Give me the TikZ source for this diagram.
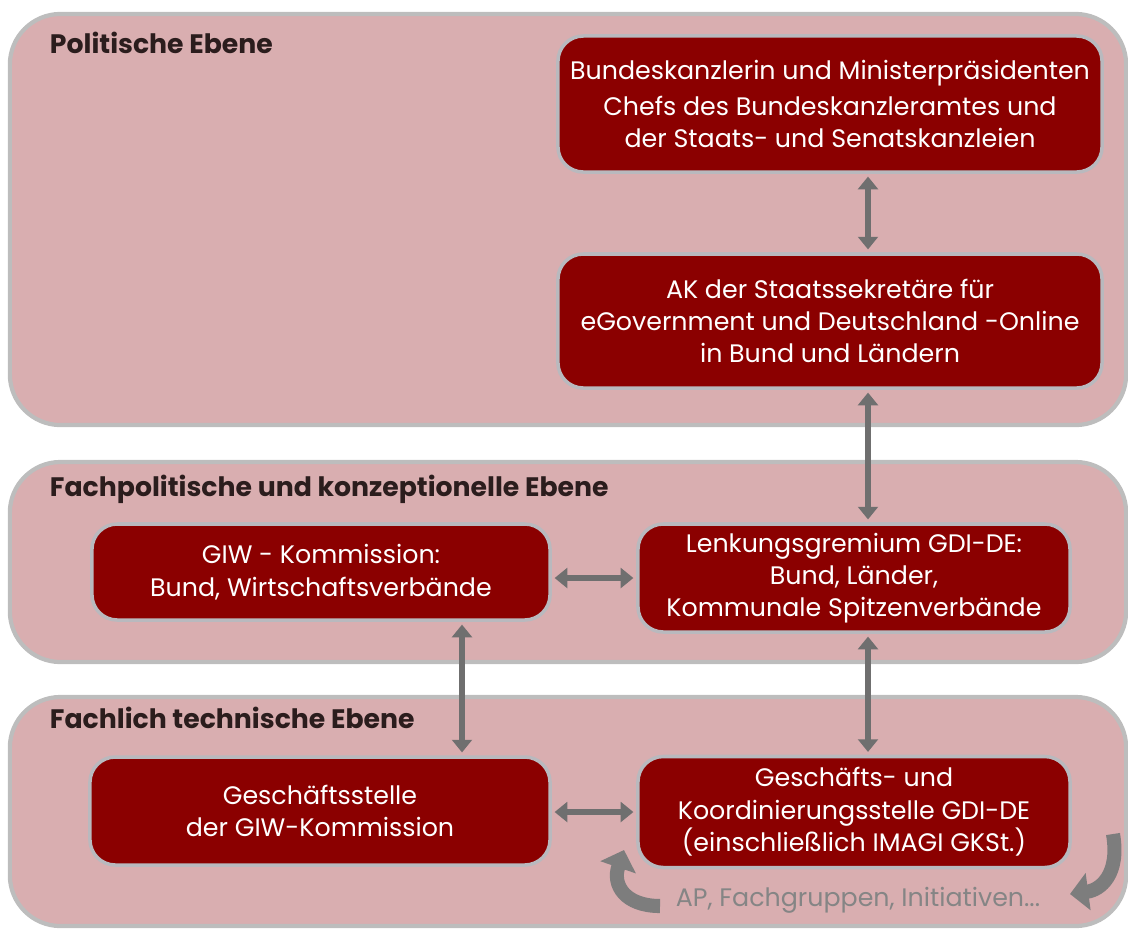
\documentclass[tikz,border=0pt]{standalone}
\usepackage{fontspec}
\setmainfont{Poppins}
\usetikzlibrary{arrows.meta}
\definecolor{ebenefill}{HTML}{D9AEB0}
\definecolor{ebenerand}{HTML}{BDBDBD}
\definecolor{dunkelrot}{HTML}{8B0000}
\definecolor{gremiumrand}{HTML}{B9B9BE}
\definecolor{titelfarbe}{HTML}{2B1D1D}
\definecolor{pfeilgrau}{HTML}{6F6F6F}
\tikzset{
  ebene/.style={draw=ebenerand, line width=3pt, fill=ebenefill, rounded corners=36pt, inner sep=0pt},
  gremium/.style={draw=gremiumrand, line width=2.5pt, fill=dunkelrot, rounded corners=18pt,
    text=white, align=center, inner sep=0pt, font=\fontsize{18}{23}\selectfont},
  titel/.style={anchor=base west, text=titelfarbe, font=\bfseries\fontsize{19}{22}\selectfont},
  doppel/.style={draw=pfeilgrau, line width=4pt,
    {Triangle[width=14pt,length=9pt]}-{Triangle[width=14pt,length=9pt]}, shorten <=2pt, shorten >=2pt},
  kreis/.style={draw=pfeilgrau!90, line width=10pt, -{Triangle[width=26pt,length=13pt]}}
}
\begin{document}
\begin{tikzpicture}
        \def\x{.025}
        \def\y{-.025}
        \useasboundingbox (0,0) rectangle (1128*\x, 929*\y);
        % Ebenen
        \node[ebene, minimum width=27.9cm, minimum height=10.275cm] (P0) at (568*\x, 219.5*\y) {};
        \node[ebene, minimum width=27.9cm, minimum height=5cm] (P1) at (568*\x, 562*\y) {};
        \node[ebene, minimum width=27.9cm, minimum height=5.725cm] (P2) at (568*\x, 811.5*\y) {};
        \node[titel] (T0) at (45*\x, 53*\y) {Politische Ebene};
        \node[titel] (T1) at (45*\x, 496*\y) {Fachpolitische und konzeptionelle Ebene};
        \node[titel] (T2) at (45*\x, 728*\y) {Fachlich technische Ebene};
        % Gremien
        \node[gremium, minimum width=13.6cm, minimum height=3.4cm] (A0_1) at (830*\x, 104*\y)
          {Bundeskanzlerin und Ministerpräsidenten\\[3pt] Chefs des Bundeskanzleramtes und\\ der Staats- und Senatskanzleien};
        \node[gremium, minimum width=13.6cm, minimum height=3.35cm] (A1_1) at (830*\x, 321*\y)
          {AK der Staatssekretäre für\\ eGovernment und Deutschland -Online\\ in Bund und Ländern};
        \node[gremium, minimum width=11.45cm, minimum height=2.4cm] (A2_0) at (321*\x, 572*\y)
          {GIW - Kommission:\\ Bund, Wirtschaftsverbände};
        \node[gremium, minimum width=10.8cm, minimum height=2.7cm] (A2_1) at (854*\x, 578*\y)
          {Lenkungsgremium GDI-DE:\\ Bund, Länder,\\ Kommunale Spitzenverbände};
        \node[gremium, minimum width=11.5cm, minimum height=2.7cm] (A3_0) at (320*\x, 811*\y)
          {Geschäftsstelle\\ der GIW-Kommission};
        \node[gremium, minimum width=10.8cm, minimum height=2.775cm] (A3_1) at (854*\x, 812*\y)
          {Geschäfts- und\\ Koordinierungsstelle GDI-DE\\ (einschließlich IMAGI GKSt.)};
        \node[text=pfeilgrau!85, font=\fontsize{18}{20}\selectfont] (AP) at (858*\x, 900*\y) {AP, Fachgruppen, Initiativen...};
        \coordinate (xr) at (868*\x, 0);
        \coordinate (xl) at (462*\x, 0);
        % Verbindungen
        \path (A0_1.south -| xr) edge [doppel] (A1_1.north -| xr);
        \path (A1_1.south -| xr) edge [doppel] (A2_1.north -| xr);
        \path (A2_1.south -| xr) edge [doppel] (A3_1.north -| xr);
        \path (A2_0.south -| xl) edge [doppel] (A3_0.north -| xl);
        \path (A2_0.east |- 578*\x, 578*\y) edge [doppel] (A2_1.west |- 578*\x, 578*\y);
        \path (A3_0.east |- 0, 812*\y) edge [doppel] (A3_1.west |- 0, 812*\y);
        % Kreislauf
        \coordinate (K0) at (660*\x, 906*\y);
        \coordinate (K1) at (624*\x, 850*\y);
        \coordinate (K2) at (1113*\x, 834*\y);
        \coordinate (K3) at (1070*\x, 894*\y);
        \draw[kreis] (K0) .. controls (625*\x, 906*\y) and (612*\x, 885*\y) .. (K1);
        \draw[kreis] (K2) .. controls (1120*\x, 875*\y) and (1100*\x, 890*\y) .. (K3);
      \end{tikzpicture}
\end{document}
